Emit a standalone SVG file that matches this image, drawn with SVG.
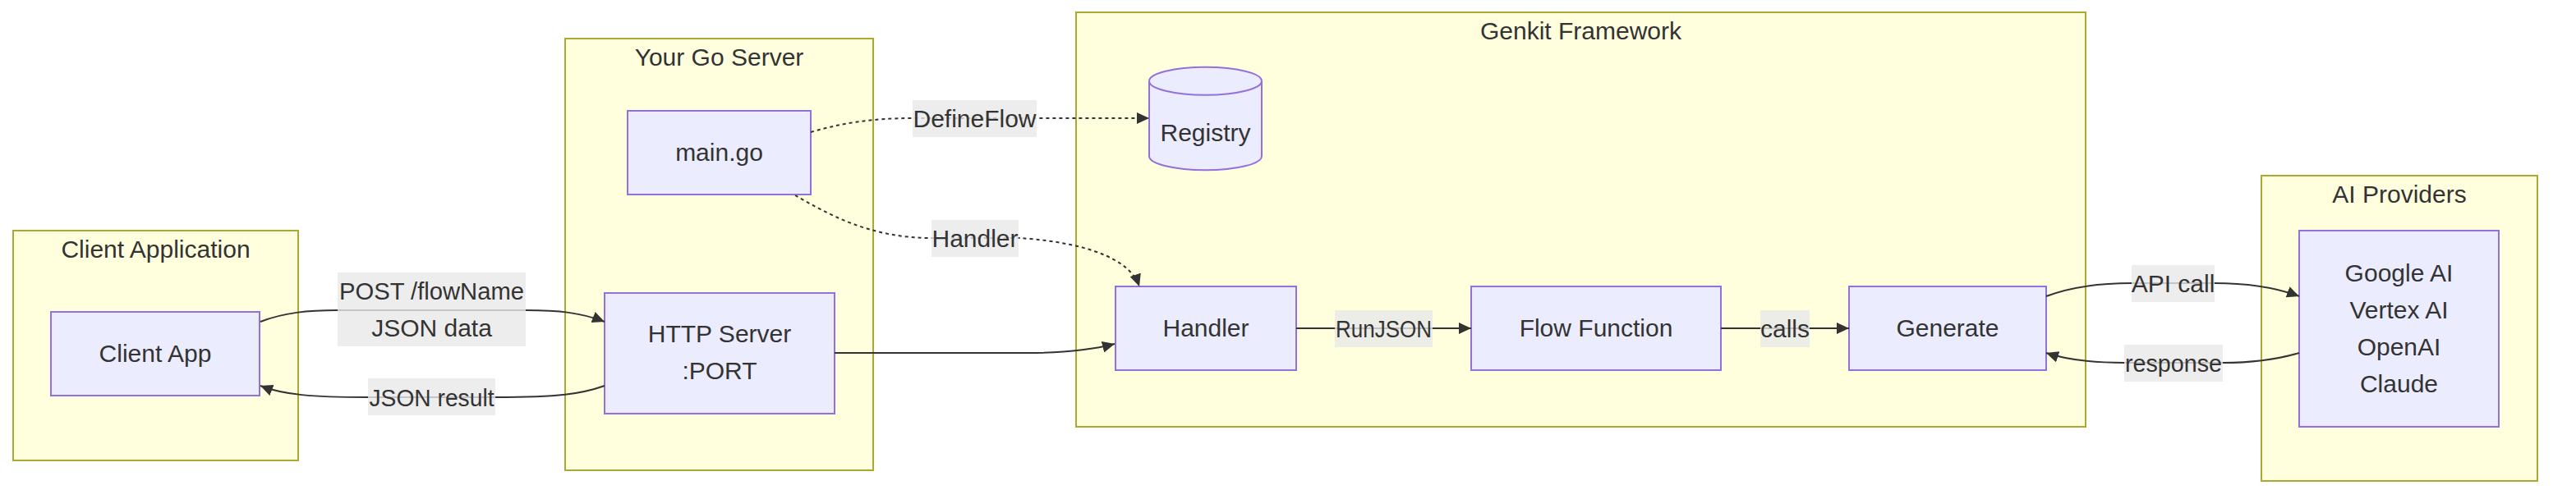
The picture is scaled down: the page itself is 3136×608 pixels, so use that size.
<svg xmlns="http://www.w3.org/2000/svg" width="3136" height="608" viewBox="0 0 3136 608">
  <style>
    .cluster { fill: #ffffde; stroke: #aaaa33; stroke-width: 2; }
    .node { fill: #ececff; stroke: #9370db; stroke-width: 2; }
    .edge { fill: none; stroke: #333333; stroke-width: 2; }
    .dotted { stroke-dasharray: 4 4; }
    .lblbg { fill: #e8e8e8; fill-opacity: 0.8; }
    text { font-family: "Liberation Sans", Arial, sans-serif; font-size: 30px; fill: #333333; text-anchor: middle; }
  </style>
  <defs>
    <marker id="arrow" markerUnits="userSpaceOnUse" markerWidth="15" markerHeight="14" viewBox="0 0 15 14" refX="15" refY="7" orient="auto">
      <path d="M0,0 L15,7 L0,14 z" fill="#333333"/>
    </marker>
  </defs>
  <rect width="3136" height="608" fill="#ffffff"/>

  <g id="cluster-client">
    <rect class="cluster" x="16" y="281" width="347" height="280"/>
    <text x="189.5" y="314">Client Application</text>
  </g>
  <g id="cluster-server">
    <rect class="cluster" x="688" y="47" width="375" height="526"/>
    <text x="875.5" y="80">Your Go Server</text>
  </g>
  <g id="cluster-genkit">
    <rect class="cluster" x="1310" y="15" width="1229" height="505"/>
    <text x="1924.5" y="48">Genkit Framework</text>
  </g>
  <g id="cluster-providers">
    <rect class="cluster" x="2753" y="214" width="336" height="372"/>
    <text x="2921" y="247">AI Providers</text>
  </g>

  <g id="node-client-app">
    <rect class="node" x="62" y="380" width="254" height="102"/>
    <text x="189" y="441">Client App</text>
  </g>
  <g id="node-main-go">
    <rect class="node" x="764" y="135" width="223" height="102"/>
    <text x="875.5" y="196">main.go</text>
  </g>
  <g id="node-http-server">
    <rect class="node" x="736" y="357" width="280" height="147"/>
    <text x="876" y="417">HTTP Server</text>
    <text x="876" y="462">:PORT</text>
  </g>
  <g id="node-registry">
    <path class="node" d="M1399,98.7 a68.5,17 0 0 0 137,0 a68.5,17 0 0 0 -137,0 l0,91.6 a68.5,17 0 0 0 137,0 l0,-91.6"/>
    <text x="1467.5" y="172">Registry</text>
  </g>
  <g id="node-handler">
    <rect class="node" x="1358" y="349" width="220" height="102"/>
    <text x="1468" y="410">Handler</text>
  </g>
  <g id="node-flow-function">
    <rect class="node" x="1791" y="349" width="304" height="102"/>
    <text x="1943" y="410">Flow Function</text>
  </g>
  <g id="node-generate">
    <rect class="node" x="2251" y="349" width="240" height="102"/>
    <text x="2371" y="410">Generate</text>
  </g>
  <g id="node-providers">
    <rect class="node" x="2799" y="281" width="243" height="239"/>
    <text x="2920.5" y="343">Google AI</text>
    <text x="2920.5" y="388">Vertex AI</text>
    <text x="2920.5" y="433">OpenAI</text>
    <text x="2920.5" y="478">Claude</text>
  </g>

  <g id="connectors">
    <path class="edge" d="M317,392 C345,381 375,378 411,378 L640,378 C680,378 708,381 736,392" marker-end="url(#arrow)"/>
    <path class="edge" d="M736,470 C708,480 680,484 603,484 L448,484 C380,484 345,481 317,470" marker-end="url(#arrow)"/>
    <path class="edge dotted" d="M987,161 C1025,150 1060,144 1111,144 L1399,144" marker-end="url(#arrow)"/>
    <path class="edge dotted" d="M968,238 C1010,262 1060,290 1134,290 L1240,290 C1290,293 1372,305 1387,349" marker-end="url(#arrow)"/>
    <path class="edge" d="M1016,430 L1250,430 C1300,430 1330,426 1357,419" marker-end="url(#arrow)"/>
    <path class="edge" d="M1578,400 L1791,400" marker-end="url(#arrow)"/>
    <path class="edge" d="M2095,400 L2251,400" marker-end="url(#arrow)"/>
    <path class="edge" d="M2491,361 C2525,348 2560,345 2595,345 L2695,345 C2735,345 2770,350 2799,361" marker-end="url(#arrow)"/>
    <path class="edge" d="M2799,430 C2765,440 2735,442 2706,442 L2586,442 C2545,442 2515,438 2491,430" marker-end="url(#arrow)"/>
  </g>

  <g id="edge-labels">
    <g>
      <rect class="lblbg" x="411" y="332" width="229" height="90"/>
      <text x="525.5" y="365" textLength="225" lengthAdjust="spacingAndGlyphs">POST /flowName</text>
      <text x="525.5" y="410">JSON data</text>
    </g>
    <g>
      <rect class="lblbg" x="448" y="461" width="155" height="45"/>
      <text x="525.5" y="494.5" textLength="152" lengthAdjust="spacingAndGlyphs">JSON result</text>
    </g>
    <g>
      <rect class="lblbg" x="1111" y="122" width="151" height="45"/>
      <text x="1186.5" y="155">DefineFlow</text>
    </g>
    <g>
      <rect class="lblbg" x="1134" y="268" width="106" height="45"/>
      <text x="1187" y="300.5">Handler</text>
    </g>
    <g>
      <rect class="lblbg" x="1625" y="378" width="119" height="45"/>
      <text x="1684.5" y="410.5" textLength="117" lengthAdjust="spacingAndGlyphs">RunJSON</text>
    </g>
    <g>
      <rect class="lblbg" x="2143" y="378" width="60" height="45"/>
      <text x="2173" y="410.5">calls</text>
    </g>
    <g>
      <rect class="lblbg" x="2595" y="323" width="101" height="45"/>
      <text x="2645.5" y="355.5">API call</text>
    </g>
    <g>
      <rect class="lblbg" x="2586" y="420" width="120" height="45"/>
      <text x="2646" y="452.5" textLength="118" lengthAdjust="spacingAndGlyphs">response</text>
    </g>
  </g>
</svg>
